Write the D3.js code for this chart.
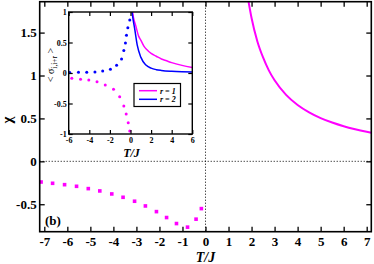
<!DOCTYPE html>
<html>
<head>
<meta charset="utf-8">
<script src="https://cdn.jsdelivr.net/npm/d3@7"></script>
<style>
body { margin: 0; background: #fff; }
svg { display: block; }
text { font-family: "Liberation Serif", "Times New Roman", serif; font-weight: bold; fill: #000; }
</style>
</head>
<body>
<svg id="chart" width="374" height="264"></svg>
<script>
// main panel: chi vs T/J
var chiPosT = [1.85, 2.0, 2.25, 2.5, 2.75, 3.0, 3.5, 4.0, 4.5, 5.0, 5.5, 6.0, 6.5, 7.0, 7.2];
var chiPosV = [1.89, 1.67, 1.40, 1.21, 1.06, 0.944, 0.775, 0.657, 0.571, 0.504, 0.452, 0.409, 0.374, 0.344, 0.333];
var chiNegT = [-7.14, -6.64, -6.12, -5.6, -5.09, -4.59, -4.07, -3.58, -3.08, -2.61, -2.13, -1.69, -1.26, -0.78, -0.41, -0.18];
var chiNegV = [-0.241, -0.256, -0.272, -0.291, -0.318, -0.345, -0.38, -0.419, -0.465, -0.52, -0.586, -0.655, -0.725, -0.767, -0.674, -0.551];
var mainXTicks = [-7, -6, -5, -4, -3, -2, -1, 0, 1, 2, 3, 4, 5, 6, 7];
var mainYTicks = [-0.5, 0, 0.5, 1, 1.5];

// inset: nearest neighbour correlations
var r1PosT = [0.2, 0.3, 0.5, 0.8, 1.0, 1.3, 1.6, 2.0, 2.5, 3.0, 3.5, 4.0, 5.0, 6.0];
var r1PosV = [1.0, 0.9, 0.78, 0.6, 0.54, 0.44, 0.38, 0.32, 0.275, 0.23, 0.2, 0.17, 0.125, 0.09];
var r2PosT = [0.15, 0.25, 0.4, 0.65, 1.0, 1.5, 2.0, 2.5, 3.0, 4.0, 5.0, 6.0];
var r2PosV = [1.0, 0.88, 0.73, 0.46, 0.26, 0.13, 0.08, 0.055, 0.042, 0.028, 0.02, 0.016];
var r1NegT = [-5.7, -4.85, -4.05, -3.25, -2.45, -1.65, -1.05, -0.65, -0.42, -0.22, -0.07];
var r1NegV = [-0.087, -0.104, -0.115, -0.143, -0.197, -0.267, -0.388, -0.541, -0.672, -0.814, -0.951];
var r2NegT = [-5.9, -5.05, -4.25, -3.45, -2.7, -1.95, -1.35, -0.87, -0.65, -0.49, -0.39, -0.26, -0.07];
var r2NegV = [0.01, 0.011, 0.012, 0.016, 0.033, 0.06, 0.126, 0.23, 0.37, 0.49, 0.62, 0.74, 0.87];
var insetXTicks = [-6, -4, -2, 0, 2, 4, 6];
var insetYTicks = [-1, -0.5, 0, 0.5, 1];
var legendLabels = ['r = 1', 'r = 2'];

var MAGENTA = '#ff00ff';
var BLUE = '#0000ff';

var svg = d3.select('#chart');

function zip(a, b) {
    return a.map(function(d, i) { return [d, b[i]]; });
}

// ---- main panel ----
var x = d3.scaleLinear().domain([-7.2, 7.2]).range([39.7, 371.3]);
var y = d3.scaleLinear().domain([-0.82, 1.86]).range([231.7, 1.7]);

svg.append('clipPath').attr('id', 'mainclip')
    .append('rect')
    .attr('x', x(-7.2)).attr('y', y(1.86))
    .attr('width', x(7.2) - x(-7.2)).attr('height', y(-0.82) - y(1.86));

// zero lines
svg.append('line')
    .attr('x1', x(-7.2)).attr('x2', x(7.2))
    .attr('y1', y(0)).attr('y2', y(0))
    .attr('stroke', '#000').attr('stroke-width', 1).attr('stroke-dasharray', '1,2');
svg.append('line')
    .attr('x1', x(0)).attr('x2', x(0))
    .attr('y1', y(1.86)).attr('y2', y(-0.82))
    .attr('stroke', '#000').attr('stroke-width', 1).attr('stroke-dasharray', '1,2');

var mainLine = d3.line()
    .x(function(d) { return x(d[0]); })
    .y(function(d) { return y(d[1]); })
    .curve(d3.curveMonotoneX);

svg.append('path')
    .datum(zip(chiPosT, chiPosV))
    .attr('clip-path', 'url(#mainclip)')
    .attr('d', mainLine)
    .attr('fill', 'none')
    .attr('stroke', MAGENTA)
    .attr('stroke-width', 2);

var sq = 3.6;
svg.append('g').selectAll('rect')
    .data(zip(chiNegT, chiNegV))
    .enter().append('rect')
    .attr('x', function(d) { return x(d[0]) - sq / 2; })
    .attr('y', function(d) { return y(d[1]) - sq / 2; })
    .attr('width', sq).attr('height', sq)
    .attr('fill', MAGENTA);

// axes with inward ticks on all four sides
function fmt(d) { return String(d); }

var gx = svg.append('g').attr('transform', 'translate(0,' + y(-0.82) + ')')
    .call(d3.axisBottom(x).tickValues(mainXTicks).tickSize(-5).tickPadding(5).tickFormat(fmt));
svg.append('g').attr('transform', 'translate(0,' + y(1.86) + ')')
    .call(d3.axisTop(x).tickValues(mainXTicks).tickSize(-5).tickFormat(''));
var gy = svg.append('g').attr('transform', 'translate(' + x(-7.2) + ',0)')
    .call(d3.axisLeft(y).tickValues(mainYTicks).tickSize(-5).tickPadding(3).tickFormat(fmt));
svg.append('g').attr('transform', 'translate(' + x(7.2) + ',0)')
    .call(d3.axisRight(y).tickValues(mainYTicks).tickSize(-5).tickFormat(''));

svg.selectAll('.domain').remove();
svg.selectAll('.tick line').attr('stroke', '#000').attr('stroke-width', 1.3);
gx.selectAll('text').style('font-size', '13px');
gy.selectAll('text').style('font-size', '13px');

svg.append('rect')
    .attr('x', x(-7.2)).attr('y', y(1.86))
    .attr('width', x(7.2) - x(-7.2)).attr('height', y(-0.82) - y(1.86))
    .attr('fill', 'none').attr('stroke', '#000').attr('stroke-width', 1.6);

svg.append('text')
    .attr('x', x(0)).attr('y', 261.5)
    .attr('text-anchor', 'middle')
    .style('font-size', '14px').style('font-style', 'italic')
    .text('T/J');

svg.append('text')
    .attr('transform', 'translate(12,120) rotate(-90)')
    .attr('text-anchor', 'middle')
    .style('font-size', '15px')
    .text('χ');

svg.append('text')
    .attr('x', 45).attr('y', 225)
    .style('font-size', '13px')
    .text('(b)');

// ---- inset ----
var xi = d3.scaleLinear().domain([-6, 6]).range([68.7, 192.3]);
var yi = d3.scaleLinear().domain([-1, 1]).range([134, 12]);

var inset = svg.append('g');

inset.append('rect')
    .attr('x', xi(-6)).attr('y', yi(1))
    .attr('width', xi(6) - xi(-6)).attr('height', yi(-1) - yi(1))
    .attr('fill', '#fff');

inset.append('clipPath').attr('id', 'insetclip')
    .append('rect')
    .attr('x', xi(-6)).attr('y', yi(1))
    .attr('width', xi(6) - xi(-6)).attr('height', yi(-1) - yi(1));

var insetLine = d3.line()
    .x(function(d) { return xi(d[0]); })
    .y(function(d) { return yi(d[1]); })
    .curve(d3.curveMonotoneX);

[[r1PosT, r1PosV, MAGENTA], [r2PosT, r2PosV, BLUE]].forEach(function(s) {
    inset.append('path')
        .datum(zip(s[0], s[1]))
        .attr('clip-path', 'url(#insetclip)')
        .attr('d', insetLine)
        .attr('fill', 'none')
        .attr('stroke', s[2])
        .attr('stroke-width', 1.5);
});

[[r1NegT, r1NegV, MAGENTA], [r2NegT, r2NegV, BLUE]].forEach(function(s) {
    inset.append('g').selectAll('circle')
        .data(zip(s[0], s[1]))
        .enter().append('circle')
        .attr('cx', function(d) { return xi(d[0]); })
        .attr('cy', function(d) { return yi(d[1]); })
        .attr('r', 1.5)
        .attr('fill', s[2]);
});

var gxi = inset.append('g').attr('transform', 'translate(0,' + yi(-1) + ')')
    .call(d3.axisBottom(xi).tickValues(insetXTicks).tickSize(-4).tickPadding(3).tickFormat(fmt));
inset.append('g').attr('transform', 'translate(0,' + yi(1) + ')')
    .call(d3.axisTop(xi).tickValues(insetXTicks).tickSize(-4).tickFormat(''));
var gyi = inset.append('g').attr('transform', 'translate(' + xi(-6) + ',0)')
    .call(d3.axisLeft(yi).tickValues(insetYTicks).tickSize(-4).tickPadding(2).tickFormat(fmt));
inset.append('g').attr('transform', 'translate(' + xi(6) + ',0)')
    .call(d3.axisRight(yi).tickValues(insetYTicks).tickSize(-4).tickFormat(''));

inset.selectAll('.domain').remove();
inset.selectAll('.tick line').attr('stroke', '#000').attr('stroke-width', 1.2);
gxi.selectAll('text').style('font-size', '8px');
gyi.selectAll('text').style('font-size', '8px');

inset.append('rect')
    .attr('x', xi(-6)).attr('y', yi(1))
    .attr('width', xi(6) - xi(-6)).attr('height', yi(-1) - yi(1))
    .attr('fill', 'none').attr('stroke', '#000').attr('stroke-width', 1.4);

inset.append('text')
    .attr('x', xi(0) + 1).attr('y', 157)
    .attr('text-anchor', 'middle')
    .style('font-size', '12px').style('font-style', 'italic')
    .text('T/J');

var ylab = inset.append('text')
    .attr('transform', 'translate(54,65) rotate(-90)')
    .attr('text-anchor', 'middle')
    .style('font-size', '10px').style('font-weight', 'normal');
ylab.append('tspan').text('< σ');
ylab.append('tspan').attr('dy', 3).style('font-size', '7.5px').text('i,i+r');
ylab.append('tspan').attr('dy', -3).text(' >');

// legend
var legend = inset.append('g');
legend.append('rect')
    .attr('x', 134).attr('y', 83.5).attr('width', 46.5).attr('height', 23)
    .attr('fill', '#fff').attr('stroke', '#000').attr('stroke-width', 1.2);
[MAGENTA, BLUE].forEach(function(c, i) {
    var ly = 90.7 + i * 8.6;
    legend.append('line')
        .attr('x1', 139).attr('x2', 157)
        .attr('y1', ly).attr('y2', ly)
        .attr('stroke', c).attr('stroke-width', 1.5);
    legend.append('text')
        .attr('x', 160).attr('y', ly + 3)
        .style('font-size', '8px').style('font-style', 'italic')
        .text(legendLabels[i]);
});
</script>
</body>
</html>
